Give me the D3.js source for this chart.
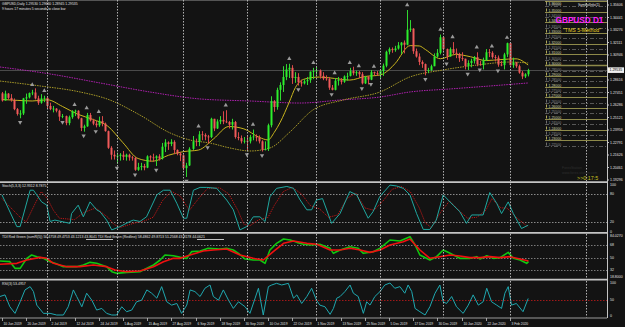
<!DOCTYPE html>
<html><head><meta charset="utf-8">
<script src="https://cdn.jsdelivr.net/npm/d3@7"></script>
<style>html,body{margin:0;padding:0;background:#131313;overflow:hidden}text{font-family:'Liberation Sans',Arial,sans-serif}</style>
</head><body><svg id="c" width="625" height="327"></svg>
<script>
// ---------------- DATA ----------------
const dateLabels = ["10 Jun 2019","20 Jun 2019","2 Jul 2019","12 Jul 2019","24 Jul 2019","5 Aug 2019","15 Aug 2019","27 Aug 2019","6 Sep 2019","18 Sep 2019","30 Sep 2019","10 Oct 2019","22 Oct 2019","1 Nov 2019","13 Nov 2019","25 Nov 2019","5 Dec 2019","17 Dec 2019","30 Dec 2019","10 Jan 2020","22 Jan 2020","3 Feb 2020"];
const dateLabelBars = [0,8,16,24,32,40,48,56,64,72,80,88,96,104,112,120,128,136,144,152,160,168];
const gridBars = [15,38,60,81,104,125,146,168,193];

const open = [1.2737,1.2670,1.2735,1.2695,1.2675,1.2590,1.2540,1.2550,1.2690,1.2700,1.2740,1.2745,1.2690,1.2650,1.2690,1.2695,1.2620,1.2590,1.2595,1.2575,1.2520,1.2525,1.2460,1.2515,1.2570,1.2575,1.2505,1.2415,1.2430,1.2535,1.2485,1.2455,1.2440,1.2480,1.2455,1.2385,1.2230,1.2165,1.2150,1.2155,1.2165,1.2145,1.2165,1.2140,1.2135,1.2025,1.2050,1.2060,1.2045,1.2150,1.2140,1.2135,1.2150,1.2130,1.2240,1.2280,1.2265,1.2285,1.2210,1.2175,1.2160,1.2040,1.2065,1.2220,1.2290,1.2285,1.2355,1.2350,1.2335,1.2330,1.2500,1.2410,1.2475,1.2490,1.2475,1.2470,1.2445,1.2470,1.2330,1.2320,1.2290,1.2295,1.2290,1.2330,1.2335,1.2325,1.2290,1.2210,1.2220,1.2440,1.2665,1.2610,1.2770,1.2815,1.2890,1.2960,1.2975,1.2880,1.2890,1.2840,1.2830,1.2850,1.2860,1.2940,1.2945,1.2950,1.2900,1.2875,1.2870,1.2790,1.2770,1.2855,1.2860,1.2845,1.2895,1.2900,1.2945,1.2925,1.2935,1.2915,1.2830,1.2890,1.2865,1.2935,1.2925,1.2915,1.2945,1.2995,1.3125,1.3150,1.3140,1.3155,1.3185,1.3210,1.3190,1.3330,1.3340,1.3130,1.3080,1.3030,1.3010,1.2950,1.2955,1.2990,1.3080,1.3115,1.3260,1.3150,1.3080,1.3150,1.3115,1.3105,1.3065,1.3060,1.2990,1.3020,1.3040,1.3075,1.3010,1.3000,1.3045,1.3120,1.3115,1.3075,1.3070,1.3005,1.3000,1.3100,1.3205,1.3000,1.3025,1.2990,1.2930,1.2895,1.2915];
const high = [1.2750,1.2762,1.2740,1.2730,1.2690,1.2600,1.2580,1.2695,1.2735,1.2745,1.2770,1.2784,1.2715,1.2730,1.2715,1.2710,1.2650,1.2620,1.2600,1.2585,1.2545,1.2530,1.2530,1.2580,1.2585,1.2580,1.2510,1.2445,1.2555,1.2555,1.2500,1.2480,1.2520,1.2525,1.2465,1.2390,1.2245,1.2205,1.2185,1.2180,1.2200,1.2175,1.2175,1.2155,1.2145,1.2090,1.2090,1.2080,1.2160,1.2160,1.2175,1.2160,1.2170,1.2275,1.2310,1.2290,1.2310,1.2300,1.2215,1.2190,1.2165,1.2090,1.2235,1.2340,1.2315,1.2385,1.2385,1.2365,1.2350,1.2510,1.2500,1.2495,1.2525,1.2570,1.2580,1.2480,1.2500,1.2480,1.2375,1.2345,1.2330,1.2340,1.2350,1.2400,1.2355,1.2345,1.2300,1.2290,1.2455,1.2710,1.2675,1.2790,1.2840,1.2990,1.3010,1.3013,1.3000,1.2935,1.2925,1.2865,1.2870,1.2890,1.2940,1.2975,1.2985,1.2960,1.2935,1.2905,1.2890,1.2815,1.2880,1.2890,1.2880,1.2905,1.2930,1.2975,1.2985,1.2950,1.2945,1.2935,1.2900,1.2900,1.2955,1.2940,1.2945,1.2955,1.3015,1.3135,1.3165,1.3165,1.3180,1.3215,1.3215,1.3230,1.3514,1.3420,1.3345,1.3155,1.3110,1.3045,1.3015,1.2975,1.3005,1.3110,1.3150,1.3285,1.3265,1.3155,1.3165,1.3215,1.3155,1.3115,1.3120,1.3060,1.3045,1.3060,1.3085,1.3120,1.3040,1.3070,1.3150,1.3150,1.3130,1.3095,1.3090,1.3040,1.3115,1.3210,1.3215,1.3070,1.3030,1.3005,1.2945,1.2925,1.2966];
const low = [1.2660,1.2670,1.2680,1.2660,1.2580,1.2530,1.2505,1.2535,1.2640,1.2690,1.2720,1.2680,1.2630,1.2640,1.2655,1.2600,1.2580,1.2560,1.2560,1.2480,1.2505,1.2440,1.2440,1.2500,1.2525,1.2495,1.2385,1.2380,1.2425,1.2475,1.2440,1.2420,1.2425,1.2430,1.2380,1.2220,1.2120,1.2120,1.2080,1.2110,1.2115,1.2110,1.2110,1.2110,1.2015,1.2015,1.2020,1.2020,1.2040,1.2100,1.2100,1.2060,1.2110,1.2120,1.2190,1.2210,1.2245,1.2170,1.2160,1.2105,1.2020,1.1958,1.2060,1.2210,1.2245,1.2245,1.2300,1.2300,1.2270,1.2320,1.2385,1.2405,1.2450,1.2450,1.2460,1.2410,1.2400,1.2315,1.2300,1.2270,1.2270,1.2205,1.2270,1.2300,1.2290,1.2270,1.2195,1.2205,1.2200,1.2420,1.2565,1.2585,1.2670,1.2750,1.2860,1.2880,1.2825,1.2835,1.2810,1.2800,1.2820,1.2815,1.2835,1.2870,1.2910,1.2875,1.2860,1.2855,1.2770,1.2765,1.2765,1.2810,1.2820,1.2835,1.2855,1.2895,1.2905,1.2900,1.2880,1.2820,1.2825,1.2820,1.2860,1.2905,1.2900,1.2880,1.2900,1.2980,1.3100,1.3115,1.3125,1.3145,1.3105,1.3110,1.3185,1.3310,1.3105,1.3070,1.3000,1.2975,1.2905,1.2925,1.2945,1.2990,1.3070,1.3100,1.3135,1.3050,1.3080,1.3100,1.3065,1.3030,1.3040,1.2960,1.2955,1.2980,1.3015,1.2990,1.2995,1.2960,1.3040,1.3075,1.3060,1.3035,1.2985,1.2990,1.2960,1.3075,1.2995,1.2975,1.2975,1.2920,1.2870,1.2880,1.2895];
const close = [1.2670,1.2735,1.2695,1.2675,1.2590,1.2545,1.2550,1.2690,1.2700,1.2740,1.2745,1.2690,1.2650,1.2690,1.2695,1.2620,1.2590,1.2595,1.2575,1.2520,1.2525,1.2460,1.2515,1.2570,1.2575,1.2505,1.2415,1.2430,1.2535,1.2485,1.2455,1.2440,1.2480,1.2455,1.2385,1.2230,1.2165,1.2150,1.2155,1.2165,1.2145,1.2165,1.2140,1.2135,1.2025,1.2050,1.2060,1.2045,1.2150,1.2140,1.2135,1.2150,1.2130,1.2240,1.2280,1.2265,1.2285,1.2210,1.2175,1.2160,1.2040,1.2065,1.2220,1.2290,1.2285,1.2355,1.2350,1.2335,1.2330,1.2500,1.2410,1.2475,1.2490,1.2475,1.2470,1.2445,1.2470,1.2330,1.2320,1.2290,1.2295,1.2290,1.2330,1.2335,1.2325,1.2290,1.2210,1.2220,1.2440,1.2665,1.2610,1.2770,1.2815,1.2890,1.2960,1.2975,1.2880,1.2890,1.2840,1.2830,1.2850,1.2860,1.2940,1.2945,1.2950,1.2900,1.2875,1.2870,1.2790,1.2770,1.2855,1.2860,1.2845,1.2895,1.2900,1.2945,1.2925,1.2935,1.2915,1.2830,1.2890,1.2865,1.2935,1.2925,1.2915,1.2945,1.2995,1.3125,1.3150,1.3140,1.3155,1.3185,1.3210,1.3190,1.3330,1.3340,1.3130,1.3080,1.3030,1.3010,1.2950,1.2955,1.2990,1.3080,1.3115,1.3260,1.3150,1.3080,1.3150,1.3115,1.3105,1.3065,1.3060,1.2990,1.3020,1.3040,1.3075,1.3010,1.3000,1.3045,1.3120,1.3115,1.3075,1.3070,1.3005,1.3000,1.3100,1.3205,1.3000,1.3025,1.2990,1.2930,1.2895,1.2915,1.2953];

const fractalUp = [10,14,24,28,32,65,74,83,95,103,110,115,118,123,134,145,149,157,162,167];
const fractalDown = [6,20,27,31,38,44,51,61,68,81,86,98,109,119,122,140,147,154,158,164];

const fastBars = [0,5,10,15,20,25,30,35,40,45,50,55,60,65,70,75,80,85,88,90,92,95,97,100,105,110,115,120,125,128,130,135,138,140,145,150,155,160,165,170,174];
const fastVals = [1.2680,1.2672,1.2666,1.2677,1.2615,1.2543,1.2495,1.2431,1.2277,1.2130,1.2105,1.2160,1.2194,1.2209,1.2314,1.2428,1.2406,1.2328,1.2303,1.2372,1.2468,1.2656,1.2790,1.2870,1.2889,1.2876,1.2861,1.2894,1.2908,1.2958,1.3015,1.3182,1.3179,1.3146,1.3060,1.3100,1.3078,1.3043,1.3052,1.3059,1.3001];
const slowBars = [-0.7,12.6,25.8,35.7,45.6,55.6,62.2,68.8,75.4,82,88.6,95.2,102.8,112.8,125,134.9,145.8,157.1,168,174];
const slowVals = [1.2852,1.2806,1.2750,1.2675,1.2535,1.2368,1.2302,1.2274,1.2228,1.2200,1.2228,1.2377,1.2582,1.2675,1.2750,1.2890,1.2955,1.3001,1.3029,1.3020];
const longBars = [-0.7,15.9,32.4,48.9,65.5,82,98.5,111.8,125,134.9,148.1,161.4,174];
const longVals = [1.2983,1.2918,1.2834,1.2750,1.2685,1.2666,1.2647,1.2675,1.2703,1.2750,1.2778,1.2806,1.2834];

const priceTicks = ["1.35606","1.34441","1.33276","1.32111","1.30946","","1.28616","1.27451","1.26286","1.25121","1.23956","1.22791","1.21626","1.20461","1.19296"];
const roundLevels = [1.36,1.355,1.35,1.345,1.34,1.335,1.33,1.325,1.32,1.315,1.31,1.305,1.30,1.295,1.29,1.285,1.28,1.275,1.27,1.265,1.26,1.255,1.25,1.245,1.24,1.235,1.23,1.225];
const bidPrice = 1.29535;

const stochBars = [0,4.9,6,9.3,10.4,13.1,14.8,15.9,17.5,22.5,23,25.2,26.9,29.1,31.3,32.4,34.6,36.3,39,42.3,43.4,45.6,47.8,51.2,53.4,55.6,57.8,60,61.1,63.3,65.5,67.7,71,74.3,76.5,78.7,80.9,83.1,85.3,87,88.6,90.8,94.2,96.4,98.6,100.8,102.4,104,106,109,111.8,115,117.3,121.1,122.7,124.9,128.3,130.5,132.7,134.9,137.1,139.3,141.5,143.6,145.9,149.2,151.4,153.6,155.3,159.1,161.3,163.6,165.2,167.4,169.1,171.8,174];
const stochMain = [78,10,10,88,88,63,56,21,24,17,38,56,31,63,46,42,24,3,10,21,24,21,31,78,88,88,60,28,28,88,94,94,92,67,46,3,10,31,31,21,74,92,96,92,67,46,46,67,70,17,38,85,78,28,42,74,99,97,92,78,38,4,4,24,78,56,42,17,35,35,83,60,38,63,38,6,13];
const stochSigBars = [0,6,8,11,13,15,17,19,24,27,29,31,33,35,37,39,41,44,47,50,53,56,59,62,65,68,72,75,78,80,82,85,88,90,93,96,99,102,105,108,111,114,117,120,123,126,129,132,135,138,140,142,145,148,151,154,157,160,162,165,167,170,174];
const stochSig = [70,30,20,60,85,70,45,28,25,40,45,50,40,30,15,8,12,18,22,30,65,86,75,45,70,92,93,80,45,15,12,25,30,55,85,94,80,55,48,30,35,70,82,50,45,65,90,96,85,50,18,8,40,65,45,28,30,45,70,50,50,30,9];

const tdiGBars = [-0.7,2.6,4.3,6,8.2,9.8,11.5,13.7,15.9,17.5,20.3,24.7,26.9,29.1,31.3,34.6,36.3,37.9,41.2,45.6,47.9,50.1,52.3,53.9,56.7,59.4,61.1,62.7,65.5,68.2,72.1,74.3,76.5,78.2,80.4,83.1,85.3,87,88.6,90.8,93.1,95.3,97.5,99.7,101.9,105.1,108.5,109.6,111.8,115.1,117.8,119.5,122.8,125,128.3,131.6,134.9,136.6,138.2,141.5,143.7,145.9,148.2,151.4,154.8,157,158.1,160.3,162.5,164.7,167.4,169.1,171.3,173.5,174.1];
const tdiGreen = [45,44,34.4,34.4,48.8,53.6,51.2,48.8,44,41.6,36.8,36.8,39.2,43,41.6,36.8,29.6,27.2,28.6,29.6,34.4,39.2,46.4,53.6,52.6,49.8,48.8,58.4,59.4,63.2,62.2,63.2,60.8,56,47.8,46.4,46.4,41.6,60.8,70.4,76.6,75.2,71.8,69,68,69,63.2,56,60.8,65.6,63.2,56,58.4,63.2,75.2,73.8,80,68,53.6,46.4,51.2,60.8,56,48.8,48.8,51.2,47.8,52.6,48.8,49.8,57.4,48.8,46.4,41.6,44];
const tdiRBars = [-0.7,4.9,8.2,12.6,14.8,17,21.4,25.8,30.2,34.6,37.4,41.2,45.6,50.1,53.4,56.7,58.9,62.2,66.6,69.9,74.3,78.7,83.1,86.4,89.7,93.1,96.4,100.8,104.1,108.5,111.8,115.1,118.4,121.7,125,128.3,132.7,134.9,138.2,141.5,144.8,148.2,151.4,154.8,158.1,161.4,164.7,168,171.3,174.1];
const tdiRed = [40.2,41.6,46.4,50.2,48.8,41.6,36.8,36.8,39.2,36.8,32,29.6,30.6,36.8,44,48.8,48.8,53.6,59.4,60.8,62.2,53.6,48.8,46.4,58.4,70.4,73.8,70.4,69,60.8,60.8,63.2,60.8,57.4,60.8,68,72.8,76.6,60.8,48.8,51.2,53.6,52.2,49.8,49.8,51.2,49.8,51.2,47.8,45];

const rsiBars = [-0.7,1,2.6,4.3,6,7.6,9.3,10.4,11.5,13.7,15.9,18.1,20.3,21.9,23.6,24.7,26.4,28,29.7,31.3,33,34.6,36.3,37.9,39.6,41.2,42.9,44.5,46.2,47.9,49.5,51.2,52.8,54.5,56.1,57.8,59.4,61.1,62.2,63.8,65.5,67.1,68.8,69.9,71.6,73.2,74.9,76.5,78.2,80.4,82,83.7,84.8,86.4,88.1,89.2,90.8,92.5,94.7,96.4,97.5,99.1,100.8,102.4,104,105.1,106.8,108.5,109.6,110.7,111.8,113.4,115.1,116.2,117.8,119.5,120.6,121.7,123.3,125,126.6,128.3,129.9,131.6,133.2,134.3,135.5,136.6,138.2,139.9,141.5,143.2,144.8,145.9,147,148.7,150.3,152.5,154.2,155.8,157.5,159.1,160.3,161.9,163.6,165.2,166.3,167.4,168.5,170.1,172.3,174];
const rsiVals = [59,64,28,8,43,79,89,74,33,8,8,3,3,28,79,59,28,69,48,18,23,8,3,3,28,13,18,43,48,79,69,54,89,43,33,38,8,33,79,74,59,84,94,59,48,79,48,23,43,28,8,54,84,3,89,94,99,94,99,54,64,38,59,84,48,33,28,5,23,54,59,74,94,69,59,8,43,33,59,74,94,100,84,89,69,94,74,23,13,3,28,69,94,43,38,59,28,8,33,64,33,43,84,43,33,23,69,89,33,38,13,53];

// ---------------- LAYOUT ----------------
const W = 625, H = 327, PW = 607;
const FS = 3.5;
const svg = d3.select('#c');
svg.append('rect').attr('width', W).attr('height', H).attr('fill', '#131313');

const x = d3.scaleLinear().domain([-0.661, 200.07]).range([0, PW]);
const yP = d3.scaleLinear().domain([1.19110, 1.36072]).range([182, 0]);
const yS = d3.scaleLinear().domain([0, 100]).range([231.3, 184.6]);
const yT = d3.scaleLinear().domain([32, 68]).range([270, 245]);
const yR = d3.scaleLinear().domain([0, 100]).range([316, 283]);

const defs = svg.append('defs');
function clip(id, y0, y1) {
  defs.append('clipPath').attr('id', id).append('rect').attr('x', 0).attr('y', y0).attr('width', PW).attr('height', y1 - y0);
  return svg.append('g').attr('clip-path', `url(#${id})`);
}
const gMain = clip('cm', 0, 181);
const gSto = clip('cs', 183.5, 231.5);
const gTdi = clip('ct', 234, 278.5);
const gRsi = clip('cr', 281, 317.5);

// vertical grid (month starts)
const gGrid = svg.append('g');
[[0,181],[183.5,231.5],[234,278.5],[281,317.5]].forEach(([a,b]) => {
  gGrid.selectAll(null).data(gridBars).enter().append('line')
    .attr('x1', d => Math.round(x(d)) + 0.5).attr('x2', d => Math.round(x(d)) + 0.5)
    .attr('y1', a).attr('y2', b)
    .attr('stroke', '#b0b0b0').attr('stroke-width', 1).attr('stroke-dasharray', '1.5,1.5');
});

// ---- main panel ----
gMain.append('line').attr('x1', 0).attr('x2', PW).attr('y1', 0.5).attr('y2', 0.5).attr('stroke', '#555').attr('stroke-width', 1);
const lvlG = gMain.append('g');
roundLevels.forEach((lv, i) => {
  const yy = Math.round(yP(lv)) + 0.5;
  const solid = i % 2 === 0;
  const ty = Math.max(yy - 1, 4.5);
  lvlG.append('line').attr('x1', 545).attr('x2', PW).attr('y1', yy).attr('y2', yy)
    .attr('stroke', solid ? '#8e8a4a' : '#6a6a6a').attr('stroke-width', solid ? (lv === 1.30 ? 1.6 : 1) : 0.8)
    .attr('stroke-dasharray', solid ? null : '4,2,1,2');
  lvlG.append('line').attr('x1', 546.5).attr('x2', 546.5).attr('y1', ty - 3).attr('y2', ty).attr('stroke', solid ? '#d8d070' : '#888').attr('stroke-width', 0.8);
  lvlG.append('text').attr('x', 548.5).attr('y', ty).attr('font-size', FS)
    .attr('fill', solid ? '#d8d4a8' : '#8c8c8c').text(lv.toFixed(5));
});
gMain.append('line').attr('x1', 0).attr('x2', PW).attr('y1', Math.round(yP(bidPrice)) + 0.5).attr('y2', Math.round(yP(bidPrice)) + 0.5)
  .attr('stroke', '#4a4a4a').attr('stroke-width', 1);

const lineP = (bars, vals) => d3.line().x((d, i) => x(bars[i])).y(d => yP(d)).curve(d3.curveMonotoneX)(vals);
gMain.append('path').attr('d', lineP(longBars, longVals)).attr('fill', 'none').attr('stroke', '#b020b0').attr('stroke-width', 1).attr('stroke-dasharray', '1.5,1');
gMain.append('path').attr('d', lineP(slowBars, slowVals)).attr('fill', 'none').attr('stroke', '#a89a28').attr('stroke-width', 1).attr('stroke-dasharray', '1.5,1');
gMain.append('path').attr('d', lineP(fastBars, fastVals)).attr('fill', 'none').attr('stroke', '#c8b41e').attr('stroke-width', 1);

const idx = d3.range(close.length);
const cg = gMain.append('g');
cg.selectAll('line.w').data(idx).enter().append('line')
  .attr('x1', i => Math.round(x(i)) + 0.5).attr('x2', i => Math.round(x(i)) + 0.5)
  .attr('y1', i => yP(high[i])).attr('y2', i => yP(low[i]))
  .attr('stroke', i => close[i] >= open[i] ? '#30d830' : '#d84848').attr('stroke-width', 1);
cg.selectAll('rect.b').data(idx).enter().append('rect')
  .attr('x', i => Math.round(x(i)) - 0.5).attr('width', 2)
  .attr('y', i => yP(Math.max(open[i], close[i])))
  .attr('height', i => Math.max(0.8, Math.abs(yP(open[i]) - yP(close[i]))))
  .attr('fill', i => close[i] >= open[i] ? '#2cf02c' : '#f05a5a');

const tri = d3.symbol().type(d3.symbolTriangle).size(8);
gMain.selectAll('path.fu').data(fractalUp).enter().append('path').attr('d', tri)
  .attr('transform', i => `translate(${x(i)},${yP(high[i]) - 5})`).attr('fill', '#9a9a9a');
gMain.selectAll('path.fd').data(fractalDown).enter().append('path').attr('d', tri)
  .attr('transform', i => `translate(${x(i)},${yP(low[i]) + 4}) rotate(180)`).attr('fill', '#9a9a9a');

// header texts
svg.append('text').attr('x', 2).attr('y', 5).attr('font-size', 3.4).attr('fill', '#e0e0e0').text('GBPUSD,Daily  1.29530 1.29660 1.28945 1.29535');
svg.append('text').attr('x', 2).attr('y', 9.5).attr('font-size', 3.4).attr('fill', '#e0e0e0').text('9 hours 17 minutes 5 seconds to close bar');
svg.append('text').attr('x', 578).attr('y', 6).attr('font-size', FS).attr('fill', '#e0e0e0').text('SymbolInfo(1)');
svg.append('text').attr('x', 579.5).attr('y', 23).attr('font-size', 8.2).attr('font-weight', 'bold').attr('text-anchor', 'middle').attr('fill', '#ff20ff').text('GBPUSD D1');
svg.append('text').attr('x', 582).attr('y', 32).attr('font-size', 5.2).attr('text-anchor', 'middle').attr('fill', '#e8d020').text('"TMS 5-Method"');
svg.append('text').attr('x', 562).attr('y', 169).attr('font-size', FS).attr('fill', '#2e2e2e').text('ForexStation');
svg.append('text').attr('x', 562).attr('y', 173.5).attr('font-size', FS).attr('fill', '#2e2e2e').text('www.forex-station.com');
svg.append('text').attr('x', 577).attr('y', 180).attr('font-size', 5.4).attr('fill', '#c8c020').text('>>0:17:5');

// separators
[182.2, 232.8, 279.6].forEach(yy => svg.append('line').attr('x1', 0).attr('x2', PW + 1).attr('y1', yy).attr('y2', yy).attr('stroke', '#c4c4c4').attr('stroke-width', 1.8));
svg.append('line').attr('x1', 0).attr('x2', PW).attr('y1', 318).attr('y2', 318).attr('stroke', '#9a9a9a').attr('stroke-width', 1);
svg.append('line').attr('x1', PW + 0.5).attr('x2', PW + 0.5).attr('y1', 0).attr('y2', 318).attr('stroke', '#c4c4c4').attr('stroke-width', 1);

// stochastic
[80, 20].forEach(v => gSto.append('line').attr('x1', 0).attr('x2', PW).attr('y1', Math.round(yS(v)) + 0.5).attr('y2', Math.round(yS(v)) + 0.5).attr('stroke', '#8a8a8a').attr('stroke-dasharray', '1.5,1.5'));
const lineS = (bars, vals, ys) => d3.line().x((d, i) => x(bars[i])).y(d => ys(d))(vals);
gSto.append('path').attr('d', lineS(stochSigBars, stochSig, yS)).attr('fill', 'none').attr('stroke', '#c01818').attr('stroke-width', 1).attr('stroke-dasharray', '1.2,1');
gSto.append('path').attr('d', lineS(stochBars, stochMain, yS)).attr('fill', 'none').attr('stroke', '#20a8a0').attr('stroke-width', 1);
svg.append('text').attr('x', 2).attr('y', 186.5).attr('font-size', FS).attr('fill', '#e0e0e0').text('Stoch(5,3,3) 12.9312 8.7875');

// TDI
[68, 50, 32].forEach(v => gTdi.append('line').attr('x1', 0).attr('x2', PW).attr('y1', Math.round(yT(v)) + 0.5).attr('y2', Math.round(yT(v)) + 0.5).attr('stroke', '#7a7a7a').attr('stroke-dasharray', '1.5,1.5'));
gTdi.append('path').attr('d', lineS(tdiGBars, tdiGreen, yT)).attr('fill', 'none').attr('stroke', '#10c810').attr('stroke-width', 1.6).attr('stroke-linejoin', 'round');
gTdi.append('path').attr('d', lineS(tdiRBars, tdiRed, yT)).attr('fill', 'none').attr('stroke', '#f01010').attr('stroke-width', 1.6).attr('stroke-linejoin', 'round');
svg.append('text').attr('x', 2).attr('y', 237.5).attr('font-size', FS).attr('fill', '#e0e0e0').text('TDI Red Green (sumR(5)) 50.4758 49.4753 43.1213 43.8041   TDI Red Green (Redline) 58.4862 49.8713 51.2568 43.8178 44.0621');
svg.append('line').attr('x1', 86).attr('x2', 113).attr('y1', 239.5).attr('y2', 239.5).attr('stroke', '#f0f0f0').attr('stroke-width', 0.8);
svg.append('line').attr('x1', 197).attr('x2', 224).attr('y1', 239.5).attr('y2', 239.5).attr('stroke', '#f0f0f0').attr('stroke-width', 0.8);

// RSI
gRsi.append('line').attr('x1', 0).attr('x2', PW).attr('y1', Math.round(yR(50)) + 0.5).attr('y2', Math.round(yR(50)) + 0.5).attr('stroke', '#a01818').attr('stroke-dasharray', '1.5,1.5');
gRsi.append('path').attr('d', lineS(rsiBars, rsiVals, yR)).attr('fill', 'none').attr('stroke', '#20a8b0').attr('stroke-width', 1);
svg.append('text').attr('x', 2).attr('y', 284.5).attr('font-size', FS).attr('fill', '#e0e0e0').text('RSI(3) 53.4957');

// right axes
const ax = svg.append('g').attr('font-size', FS).attr('fill', '#e0e0e0');
priceTicks.forEach((t, k) => { if (t) {
  const yy = 5 + 12.5 * k;
  ax.append('line').attr('x1', PW).attr('x2', PW + 2).attr('y1', yy).attr('y2', yy).attr('stroke', '#c4c4c4');
  ax.append('text').attr('x', 610).attr('y', yy + 1.3).text(t);
}});
const by = yP(bidPrice);
ax.append('rect').attr('x', PW + 1).attr('y', by - 2.8).attr('width', 16).attr('height', 5.6).attr('fill', '#f0f0f0');
ax.append('text').attr('x', 609.5).attr('y', by + 1.3).attr('fill', '#000').text('1.29535');
[100, 80, 20, 0].forEach(v => ax.append('text').attr('x', 610).attr('y', yS(v) + 1.3).text(v));
[68, 50, 32].forEach(v => ax.append('text').attr('x', 610).attr('y', yT(v) + 1.3).text(v));
ax.append('text').attr('x', 610).attr('y', 237).text('84.0270');
ax.append('text').attr('x', 610).attr('y', 278).text('18.8000');
[100, 50, 0].forEach(v => ax.append('text').attr('x', 610).attr('y', yR(v) + 1.3).text(v));

// date axis
const dg = svg.append('g');
dateLabels.forEach((t, k) => {
  const xx = Math.round(x(dateLabelBars[k])) + 0.5;
  dg.append('line').attr('x1', xx).attr('x2', xx).attr('y1', 318).attr('y2', 321).attr('stroke', '#c4c4c4').attr('stroke-width', 0.8);
  dg.append('text').attr('x', xx + 1).attr('y', 324.5).attr('font-size', 3.3).attr('fill', '#e0e0e0').text(t);
});
</script></body></html>
